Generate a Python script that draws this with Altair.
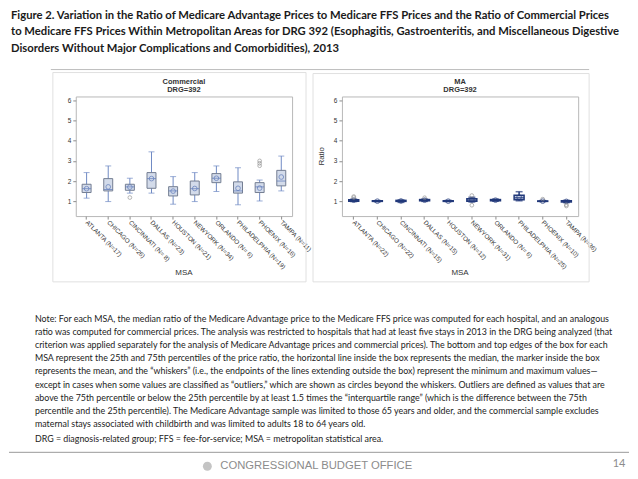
import altair as alt
import pandas as pd

# ---------------- text content ----------------
TITLE = [
    "Figure 2. Variation in the Ratio of Medicare Advantage Prices to Medicare FFS Prices and the Ratio of Commercial Prices",
    "to Medicare FFS Prices Within Metropolitan Areas for DRG 392 (Esophagitis, Gastroenteritis, and Miscellaneous Digestive",
    "Disorders Without Major Complications and Comorbidities), 2013",
]
NOTE = [
    "Note: For each MSA, the median ratio of the Medicare Advantage price to the Medicare FFS price was computed for each hospital, and an analogous",
    "ratio was computed for commercial prices. The analysis was restricted to hospitals that had at least five stays in 2013 in the DRG being analyzed (that",
    "criterion was applied separately for the analysis of Medicare Advantage prices and commercial prices). The bottom and top edges of the box for each",
    "MSA represent the 25th and 75th percentiles of the price ratio, the horizontal line inside the box represents the median, the marker inside the box",
    "represents the mean, and the \u201cwhiskers\u201d (i.e., the endpoints of the lines extending outside the box) represent the minimum and maximum values\u2014",
    "except in cases when some values are classified as \u201coutliers,\u201d which are shown as circles beyond the whiskers. Outliers are defined as values that are",
    "above the 75th percentile or below the 25th percentile by at least 1.5 times the \u201cinterquartile range\u201d (which is the difference between the 75th",
    "percentile and the 25th percentile). The Medicare Advantage sample was limited to those 65 years and older, and the commercial sample excludes",
    "maternal stays associated with childbirth and was limited to adults 18 to 64 years old.",
]
DRG_NOTE = "DRG = diagnosis-related group; FFS = fee-for-service; MSA = metropolitan statistical area."
FOOTER = "CONGRESSIONAL BUDGET OFFICE"
PAGE_NO = "14"
PANEL_TITLES = {"com": ["Commercial", "DRG=392"], "ma": ["MA", "DRG=392"]}
X_TITLE = "MSA"
Y_TITLE = "Ratio"

# ---------------- data ----------------
Y_TICKS = [1, 2, 3, 4, 5, 6]

COM_MSA = ["ATLANTA (N=17)", "CHICAGO (N=26)", "CINCINNATI (N= 8)", "DALLAS (N=23)", "HOUSTON (N=21)",
           "NEWYORK (N=34)", "ORLANDO (N= 6)", "PHILADELPHIA (N=19)", "PHOENIX (N=16)", "TAMPA (N=11)"]
COM_MIN = [1.15, 0.98, 1.40, 1.40, 0.85, 0.98, 1.48, 0.82, 1.01, 1.51]
COM_Q1 = [1.43, 1.51, 1.54, 1.64, 1.26, 1.31, 1.92, 1.40, 1.43, 1.76]
COM_MED = [1.62, 1.58, 1.71, 2.12, 1.51, 1.62, 2.14, 1.51, 1.71, 2.00]
COM_Q3 = [1.84, 2.12, 1.84, 2.42, 1.72, 2.00, 2.37, 1.96, 1.92, 2.53]
COM_MAX = [2.42, 2.75, 2.14, 3.45, 2.22, 2.42, 2.75, 2.66, 2.05, 3.24]
COM_MEAN = [1.62, 1.71, 1.70, 2.12, 1.50, 1.63, 2.14, 1.64, 1.65, 2.20]
COM_OUT_MSA = ["CINCINNATI (N= 8)", "PHOENIX (N=16)", "PHOENIX (N=16)", "PHOENIX (N=16)"]
COM_OUT_VAL = [1.18, 2.76, 2.88, 3.00]

MA_MSA = ["ATLANTA (N=22)", "CHICAGO (N=22)", "CINCINNATI (N=15)", "DALLAS (N=15)", "HOUSTON (N=12)",
          "NEWYORK (N=31)", "ORLANDO (N= 6)", "PHILADELPHIA (N=25)", "PHOENIX (N=10)", "TAMPA (N=36)"]
MA_MIN = [0.98, 0.97, 0.94, 0.99, 0.98, 0.96, 1.00, 1.02, 0.98, 0.93]
MA_Q1 = [1.00, 0.99, 0.99, 1.02, 0.99, 1.00, 1.02, 1.07, 0.99, 0.96]
MA_MED = [1.03, 1.00, 1.01, 1.05, 1.00, 1.05, 1.05, 1.17, 1.00, 1.00]
MA_Q3 = [1.07, 1.02, 1.04, 1.08, 1.02, 1.12, 1.08, 1.30, 1.01, 1.02]
MA_MAX = [1.10, 1.03, 1.06, 1.10, 1.04, 1.20, 1.10, 1.47, 1.03, 1.04]
MA_MEAN = [1.05, 1.00, 1.01, 1.05, 1.00, 1.06, 1.05, 1.20, 1.00, 0.99]
MA_OUT_MSA = ["ATLANTA (N=22)", "ATLANTA (N=22)", "DALLAS (N=15)", "NEWYORK (N=31)", "NEWYORK (N=31)",
              "PHOENIX (N=10)", "TAMPA (N=36)", "TAMPA (N=36)"]
MA_OUT_VAL = [1.18, 1.23, 1.17, 1.28, 0.80, 1.10, 0.82, 0.76]

# ---------------- style ----------------
SANS = "Liberation Sans"
BODY = "Lato"
Y_DOMAIN = [0.26, 6.2]
PLOT_H = 120
COM_W = 217
MA_W = 237

COM_STYLE = dict(whisk="#6f8ac4", stroke="#737d92", fill="#d3dbea", med="#5b77b8", mean="#5b77b8",
                 box=9, cap=6, sw=1)
MA_STYLE = dict(whisk="#22397a", stroke="#22397a", fill="#c3cde3", med="#22397a", mean="#22397a",
                box=10, cap=7, sw=1.5)


def one_row():
    return pd.DataFrame({"k": [0]})


def panel(msa, lo, q1, med, q3, hi, mean, out_msa, out_val, width, st, heading, frame, extra):
    box = pd.DataFrame({"msa": msa, "lo": lo, "q1": q1, "med": med, "q3": q3, "hi": hi, "mean": mean})
    outl = pd.DataFrame({"msa": out_msa, "v": out_val})
    xenc = alt.X("msa:N", sort=msa, title=None,
                 scale=alt.Scale(paddingInner=0, paddingOuter=0),
                 axis=alt.Axis(labelAngle=45, labelAlign="left", labelBaseline="middle", labelFontSize=6.3,
                               labelColor="#333333", labelFont=SANS, tickColor="#8c8c8c", tickSize=3,
                               domain=False, labelPadding=2, labelLimit=200, labelOverlap=False))
    yscale = alt.Scale(domain=Y_DOMAIN, nice=False, zero=False)
    yaxis = alt.Axis(values=Y_TICKS, format="d", labelFontSize=6.5, labelColor="#333333", labelFont=SANS,
                     tickColor="#8c8c8c", tickSize=3, domain=False, grid=False, labelPadding=2)

    def Y(f):
        return alt.Y(f, scale=yscale, axis=yaxis, title=None)

    base = alt.Chart(box)
    layers = list(extra)
    layers.append(
        alt.Chart(one_row()).mark_rect(fill="white", fillOpacity=0, stroke="#e0e0e0", strokeWidth=1).encode(
            x=alt.value(frame[0]), x2=alt.value(frame[1]), y=alt.value(frame[2]), y2=alt.value(frame[3]))
    )
    layers += [
        base.mark_rule(color=st["whisk"], strokeWidth=st["sw"]).encode(x=xenc, y=Y("lo:Q"), y2="hi:Q"),
        base.mark_tick(color=st["whisk"], size=st["cap"], thickness=st["sw"]).encode(x=xenc, y=Y("lo:Q")),
        base.mark_tick(color=st["whisk"], size=st["cap"], thickness=st["sw"]).encode(x=xenc, y=Y("hi:Q")),
        base.mark_bar(size=st["box"], fill=st["fill"], stroke=st["stroke"], strokeWidth=st["sw"]).encode(
            x=xenc, y=Y("q1:Q"), y2="q3:Q"),
        base.mark_tick(color=st["med"], size=st["box"], thickness=st["sw"]).encode(x=xenc, y=Y("med:Q")),
        base.mark_point(shape="circle", filled=False, size=22, color=st["mean"], strokeWidth=1).encode(
            x=xenc, y=Y("mean:Q")),
        alt.Chart(outl).mark_point(shape="circle", filled=False, size=14, color="#8a8a8a", strokeWidth=0.9).encode(
            x=xenc, y=Y("v:Q")),
        alt.Chart(one_row()).mark_text(text=heading, font=SANS, fontSize=7.5, fontWeight="bold", color="#333333",
                                       lineHeight=8.5, align="center", baseline="middle").encode(
            x=alt.value(width / 2), y=alt.value(-15)),
        alt.Chart(one_row()).mark_text(text=X_TITLE, font=SANS, fontSize=8, color="#333333",
                                       align="center", baseline="middle").encode(
            x=alt.value(width / 2), y=alt.value(177)),
    ]
    return alt.layer(*layers).properties(width=width, height=PLOT_H)


# page-level decorations, positioned relative to the left plot area (page origin 75,95)
OX, OY = 75, 95


def px(x):
    return x - OX


def py(y):
    return y - OY


page_layers = [
    alt.Chart(one_row()).mark_rect(fill="white", fillOpacity=0, strokeOpacity=0).encode(
        x=alt.value(px(8)), x2=alt.value(px(630)), y=alt.value(py(8)), y2=alt.value(py(471))),
    alt.Chart(one_row()).mark_text(text=TITLE, font=BODY, fontSize=11.3, fontWeight="bold", color="#1a1a1a",
                                   lineHeight=16.5, align="left", baseline="middle").encode(
        x=alt.value(px(10)), y=alt.value(py(14))),
    alt.Chart(one_row()).mark_rule(color="#bdbdbd", strokeWidth=1).encode(
        x=alt.value(px(50)), x2=alt.value(px(590)), y=alt.value(py(68))),
    alt.Chart(one_row()).mark_text(text=NOTE, font=BODY, fontSize=8.9, color="#222222",
                                   lineHeight=13.2, align="left", baseline="middle").encode(
        x=alt.value(px(34)), y=alt.value(py(318))),
    alt.Chart(one_row()).mark_text(text=DRG_NOTE, font=BODY, fontSize=8.9, color="#222222",
                                   align="left", baseline="middle").encode(
        x=alt.value(px(34)), y=alt.value(py(439))),
    alt.Chart(one_row()).mark_rule(color="#9a9a9a", strokeWidth=1).encode(
        x=alt.value(px(8)), x2=alt.value(px(630)), y=alt.value(py(452))),
    alt.Chart(one_row()).mark_point(shape="circle", filled=True, size=80, color="#c4c4c4", opacity=1).encode(
        x=alt.value(px(207)), y=alt.value(py(466))),
    alt.Chart(one_row()).mark_text(text=FOOTER, font=SANS, fontSize=11.3, color="#8c8c8c",
                                   align="left", baseline="middle").encode(
        x=alt.value(px(220)), y=alt.value(py(466))),
    alt.Chart(one_row()).mark_text(text=PAGE_NO, font=BODY, fontSize=11, color="#8c8c8c",
                                   align="center", baseline="middle").encode(
        x=alt.value(px(620)), y=alt.value(py(464))),
]

left = panel(COM_MSA, COM_MIN, COM_Q1, COM_MED, COM_Q3, COM_MAX, COM_MEAN, COM_OUT_MSA, COM_OUT_VAL,
             COM_W, COM_STYLE, PANEL_TITLES["com"], (px(52), px(306), py(71), py(281)), page_layers)

ma_extra = [
    alt.Chart(one_row()).mark_text(text=Y_TITLE, font=SANS, fontSize=8, color="#333333", angle=270,
                                   align="center", baseline="middle").encode(
        x=alt.value(-20), y=alt.value(60)),
]
right = panel(MA_MSA, MA_MIN, MA_Q1, MA_MED, MA_Q3, MA_MAX, MA_MEAN, MA_OUT_MSA, MA_OUT_VAL,
              MA_W, MA_STYLE, PANEL_TITLES["ma"], (313 - 342, 590 - 342, 72 - 95, 281 - 95), ma_extra)

chart = alt.hconcat(left, right, spacing=342 - OX - COM_W, bounds="flush").properties(
    padding=0, background="white"
).configure_view(stroke="#b8b8b8", strokeWidth=1)

chart.save("out.html", embed_options={"renderer": "svg", "actions": False})
